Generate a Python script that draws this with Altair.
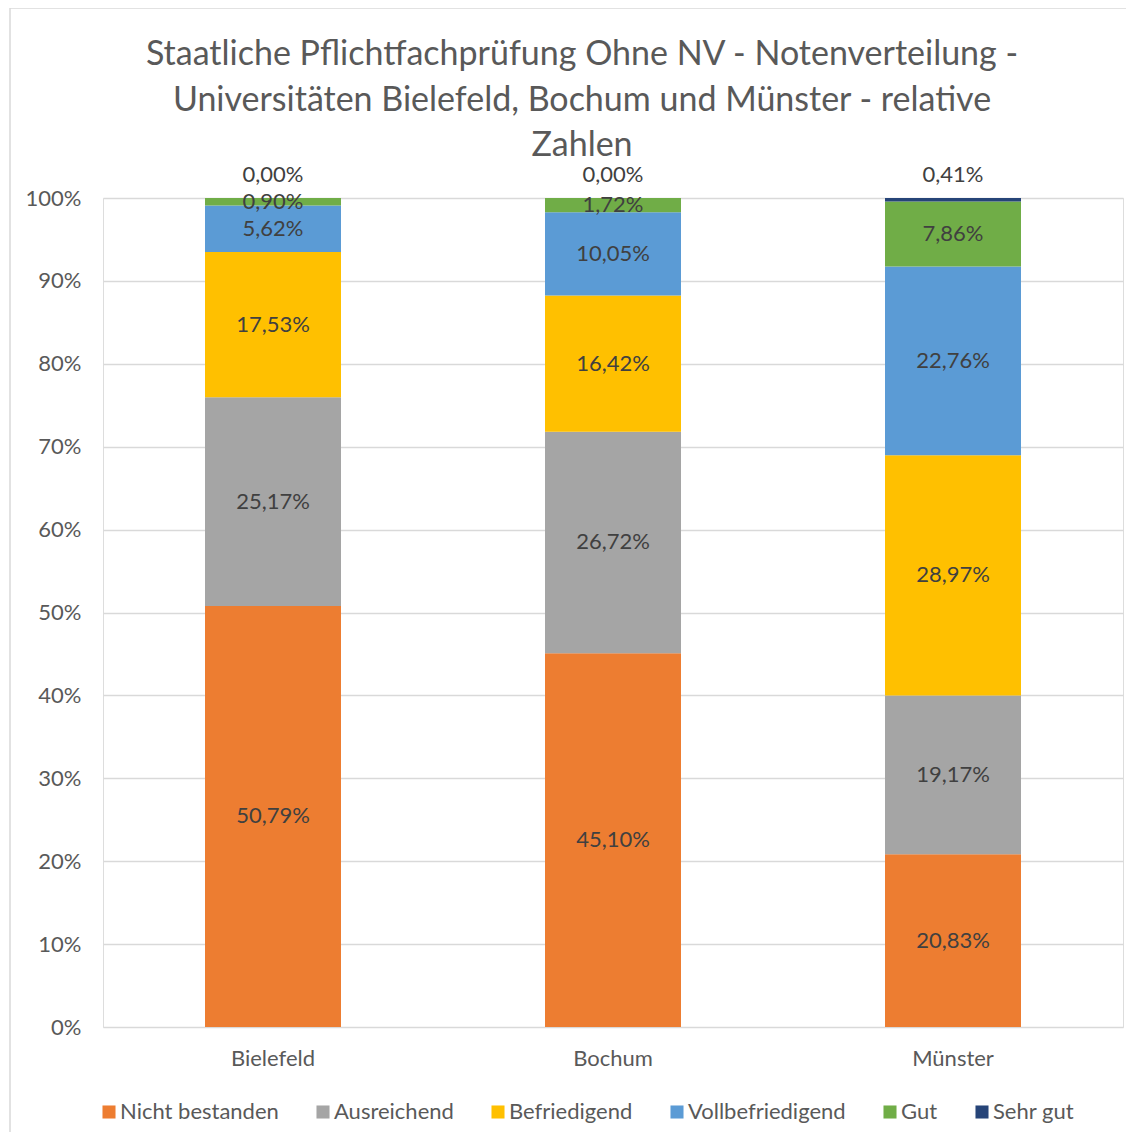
import altair as alt
import pandas as pd

universities = ["Bielefeld", "Bochum", "Münster"]
grades = ["Nicht bestanden", "Ausreichend", "Befriedigend", "Vollbefriedigend", "Gut", "Sehr gut"]
colors = ["#ED7D31", "#A5A5A5", "#FFC000", "#5B9BD5", "#70AD47", "#264478"]
bielefeld = [50.79, 25.17, 17.53, 5.62, 0.90, 0.00]
bochum = [45.10, 26.72, 16.42, 10.05, 1.72, 0.00]
muenster = [20.83, 19.17, 28.97, 22.76, 7.86, 0.41]
title_lines = ["Staatliche Pflichtfachprüfung Ohne NV - Notenverteilung -",
               "Universitäten Bielefeld, Bochum und Münster - relative",
               "Zahlen"]

rows = []
for uni, vals in zip(universities, [bielefeld, bochum, muenster]):
    for i, (g, v) in enumerate(zip(grades, vals)):
        rows.append({"Uni": uni, "Note": g, "Wert": v, "Ord": i})
df = pd.DataFrame(rows)

FONT = "Lato"
FS = 22
W, H = 1020, 829

base = alt.Chart(df).transform_stack(
    stack="Wert", groupby=["Uni"], as_=["y0", "y1"], offset="normalize",
    sort=[alt.SortField("Ord", order="ascending")]
).transform_calculate(
    mid="(datum.y0 + datum.y1) / 2",
    lab="replace(format(datum.Wert, '.2f'), '.', ',') + '%'"
)

xenc = alt.X("Uni:N", sort=universities, title=None,
             scale=alt.Scale(paddingInner=0.6, paddingOuter=0.3),
             axis=alt.Axis(labelAngle=0, ticks=False, tickSize=0, domain=False,
                           labelFontSize=FS, labelColor="#595959", labelFont=FONT,
                           labelPadding=21, grid=False))

bars = base.mark_bar(clip=False).encode(
    x=xenc,
    y=alt.Y("y0:Q", title=None, scale=alt.Scale(domain=[0, 1], nice=False),
            axis=alt.Axis(format=".0%", values=[i / 10 for i in range(11)],
                          ticks=False, domain=False, grid=True, gridColor="#D9D9D9",
                          gridWidth=1.3, labelFontSize=FS, labelColor="#595959",
                          labelFont=FONT, labelPadding=22)),
    y2="y1:Q",
    color=alt.Color("Note:N", sort=grades,
                    scale=alt.Scale(domain=grades, range=colors),
                    legend=alt.Legend(title=None, orient="none", direction="horizontal",
                                      legendX=-5, legendY=903, symbolType="square",
                                      symbolSize=170, symbolStrokeWidth=0,
                                      labelFontSize=22, labelColor="#595959",
                                      labelFont=FONT, columnPadding=33,
                                      symbolOffset=0, labelOffset=0)),
)

inner = base.transform_filter("datum.Note != 'Sehr gut'").mark_text(
    fontSize=FS, color="#404040", font=FONT, baseline="middle"
).encode(x=alt.X("Uni:N", sort=universities), y=alt.Y("mid:Q"), text="lab:N")

top = base.transform_filter("datum.Note == 'Sehr gut'").mark_text(
    fontSize=FS, color="#404040", font=FONT, baseline="middle", dy=-23
).encode(x=alt.X("Uni:N", sort=universities), y=alt.Y("y1:Q"), text="lab:N")

title = alt.Chart(pd.DataFrame({"t": ["\n".join(title_lines)]})).mark_text(
    fontSize=34, font=FONT, color="#595959", baseline="top", align="center",
    lineBreak="\n", lineHeight=45.5, clip=False
).encode(text="t:N", x=alt.value(479), y=alt.value(-160))

frame = alt.Chart(pd.DataFrame({"a": [0]})).mark_rect(
    fill=None, stroke="#D9D9D9", strokeWidth=1.5, clip=False
).encode(x=alt.value(-93), x2=alt.value(1040), y=alt.value(-190), y2=alt.value(960))

chart = alt.layer(frame, bars, inner, top, title).properties(
    width=W, height=H,
    autosize=alt.AutoSizeParams(type="none"),
    padding={"left": 95, "top": 190, "right": 3, "bottom": 105},
).configure_view(stroke=None).configure(background="white")

chart.save("out.html", embed_options={"renderer": "svg", "actions": False})
